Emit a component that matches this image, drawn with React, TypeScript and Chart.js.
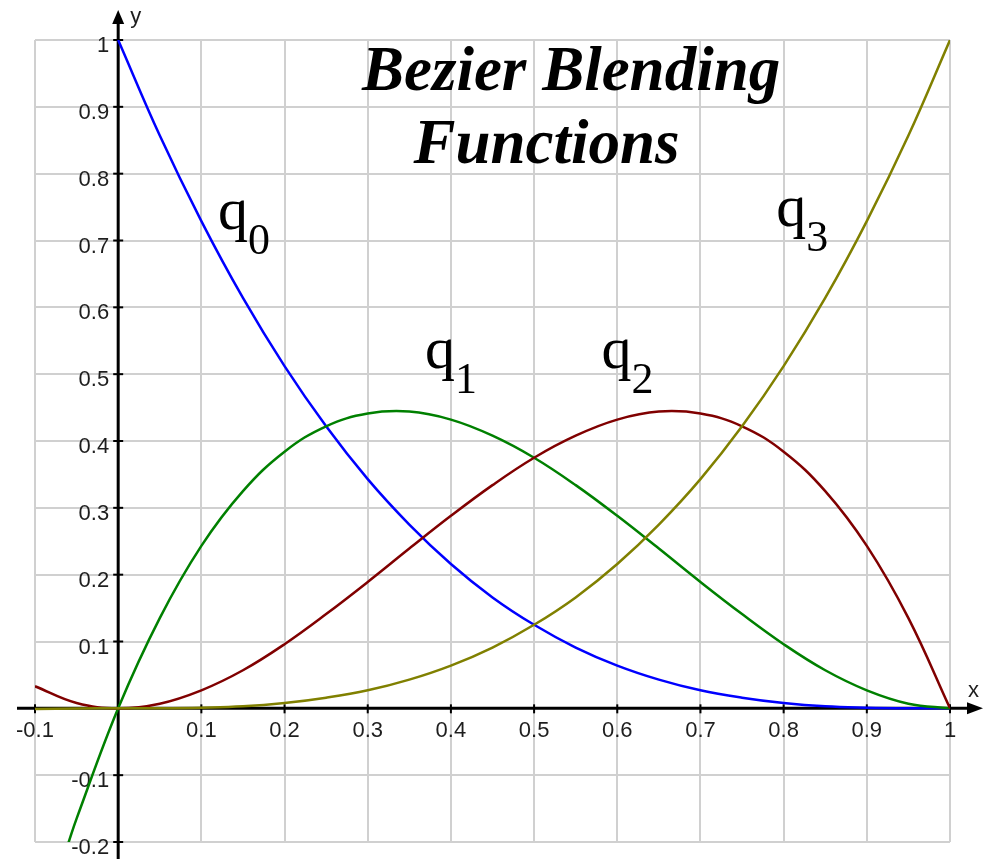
import React, { useEffect, useRef } from "react";
import { Chart, registerables } from "chart.js";

Chart.register(...registerables);

// Parameter values (x) shared by the four blending-function series
const tValues = [-0.1, -0.06, -0.05, 0, 0.05, 0.1, 0.15, 0.2, 0.25, 0.3, 0.35, 0.4, 0.45, 0.5, 0.55, 0.6, 0.65, 0.7, 0.75, 0.8, 0.85, 0.9, 0.95, 1];

// q0 (blue)
const q0Values = [null, null, null, 1, 0.857, 0.729, 0.614, 0.512, 0.422, 0.343, 0.275, 0.216, 0.166, 0.125, 0.091, 0.064, 0.043, 0.027, 0.016, 0.008, 0.003, 0.001, 0.0001, 0];
// q1 (green)
const q1Values = [null, -0.202, -0.165, 0, 0.135, 0.243, 0.325, 0.384, 0.422, 0.441, 0.444, 0.432, 0.408, 0.375, 0.334, 0.288, 0.239, 0.189, 0.141, 0.096, 0.057, 0.027, 0.007, 0];
// q2 (dark red)
const q2Values = [0.033, null, 0.0079, 0, 0.007, 0.027, 0.057, 0.096, 0.141, 0.189, 0.239, 0.288, 0.334, 0.375, 0.408, 0.432, 0.444, 0.441, 0.422, 0.384, 0.325, 0.243, 0.135, 0];
// q3 (olive)
const q3Values = [-0.001, null, -0.0001, 0, 0.0001, 0.001, 0.003, 0.008, 0.016, 0.027, 0.043, 0.064, 0.091, 0.125, 0.166, 0.216, 0.275, 0.343, 0.422, 0.512, 0.614, 0.729, 0.857, 1];

const seriesNames = ["q0", "q1", "q2", "q3"];
const seriesColors = ["#0000ff", "#008000", "#800000", "#808000"];

// Axis ranges / tick step
const xRange = [-0.1, 1];
const yRange = [-0.2, 1];
const tickStep = 0.1;

// Curve labels (letter, subscript, anchor in data coordinates)
const labelMain = ["q", "q", "q", "q"];
const labelSub = ["0", "1", "2", "3"];
const labelX = [0.12, 0.369, 0.581, 0.791];
const labelY = [0.717, 0.509, 0.509, 0.722];

// Title lines (anchor in data coordinates)
const titleLines = ["Bezier Blending", "Functions"];
const titleX = [0.293, 0.355];
const titleY = [0.925, 0.816];

const fmt = (v: number) => String(Math.round(v * 10) / 10);

const overlayPlugin = {
  id: "overlay",
  beforeDatasetsDraw(chart: any) {
    const { ctx, chartArea } = chart;
    const xs = chart.scales.x;
    const ys = chart.scales.y;
    const x0 = xs.getPixelForValue(0);
    const y0 = ys.getPixelForValue(0);
    ctx.save();
    ctx.strokeStyle = "#000";
    ctx.fillStyle = "#000";
    // x axis
    const xLeft = chartArea.left - 18;
    const xTip = chartArea.right + 33;
    ctx.lineWidth = 3;
    ctx.beginPath();
    ctx.moveTo(xLeft, y0);
    ctx.lineTo(xTip - 10, y0);
    ctx.stroke();
    ctx.beginPath();
    ctx.moveTo(xTip, y0);
    ctx.lineTo(xTip - 16, y0 - 6);
    ctx.lineTo(xTip - 16, y0 + 6);
    ctx.closePath();
    ctx.fill();
    // y axis
    const yTip = chartArea.top - 30;
    ctx.beginPath();
    ctx.moveTo(x0, chart.height);
    ctx.lineTo(x0, yTip + 10);
    ctx.stroke();
    ctx.beginPath();
    ctx.moveTo(x0, yTip);
    ctx.lineTo(x0 - 6, yTip + 14);
    ctx.lineTo(x0 + 6, yTip + 14);
    ctx.closePath();
    ctx.fill();

    // tick marks and labels
    ctx.lineWidth = 2;
    ctx.font = '22px "Liberation Sans", Arial, sans-serif';
    ctx.fillStyle = "#1e1e1e";
    xs.ticks.forEach((t: any) => {
      if (Math.abs(t.value) < 1e-9) return;
      const px = xs.getPixelForValue(t.value);
      ctx.beginPath();
      ctx.moveTo(px, y0 - 4);
      ctx.lineTo(px, y0 + 5);
      ctx.stroke();
      ctx.textAlign = "center";
      ctx.textBaseline = "alphabetic";
      ctx.fillText(fmt(t.value), px, y0 + 29);
    });
    ys.ticks.forEach((t: any) => {
      if (Math.abs(t.value) < 1e-9) return;
      const py = ys.getPixelForValue(t.value);
      ctx.beginPath();
      ctx.moveTo(x0 - 5, py);
      ctx.lineTo(x0 + 5, py);
      ctx.stroke();
      ctx.textAlign = "right";
      ctx.textBaseline = "alphabetic";
      ctx.fillText(fmt(t.value), x0 - 9, py + 12);
    });

    // axis names
    ctx.font = '22px "Liberation Sans", Arial, sans-serif';
    ctx.textAlign = "left";
    ctx.fillText("y", x0 + 12, chartArea.top - 17);
    ctx.fillText("x", chartArea.right + 18, y0 - 11);
    ctx.restore();
  },
  afterDatasetsDraw(chart: any) {
    const { ctx } = chart;
    const xs = chart.scales.x;
    const ys = chart.scales.y;
    ctx.save();
    ctx.fillStyle = "#000";
    ctx.textAlign = "left";
    ctx.textBaseline = "alphabetic";
    ctx.font = 'italic bold 63px "Liberation Serif", "Times New Roman", serif';
    titleLines.forEach((line, i) => {
      ctx.fillText(line, xs.getPixelForValue(titleX[i]), ys.getPixelForValue(titleY[i]));
    });
    labelMain.forEach((m, i) => {
      const px = xs.getPixelForValue(labelX[i]);
      const py = ys.getPixelForValue(labelY[i]);
      ctx.font = '60px "Liberation Serif", "Times New Roman", serif';
      ctx.fillText(m, px, py);
      const w = ctx.measureText(m).width;
      ctx.font = '44px "Liberation Serif", "Times New Roman", serif';
      ctx.fillText(labelSub[i], px + w, py + 25);
    });
    ctx.restore();
  },
};

export default function App() {
  const canvasRef = useRef<HTMLCanvasElement | null>(null);

  useEffect(() => {
    const canvas = canvasRef.current;
    if (!canvas) return;
    const seriesValues = [q0Values, q1Values, q2Values, q3Values];
    const drawOrder = [3, 2, 1, 0];
    const datasets = seriesValues.map((vals, i) => ({
      label: seriesNames[i],
      data: tValues
        .map((x, j) => ({ x, y: vals[j] }))
        .filter((p) => p.y !== null),
      borderColor: seriesColors[i],
      backgroundColor: seriesColors[i],
      borderWidth: 2.5,
      pointRadius: 0,
      fill: false,
      showLine: true,
      tension: 0.4,
      order: drawOrder[i],
    }));

    const chart = new Chart(canvas, {
      type: "scatter",
      data: { datasets },
      plugins: [overlayPlugin],
      options: {
        animation: false,
        responsive: false,
        devicePixelRatio: 1,
        layout: { padding: { left: 35, top: 40, right: 40, bottom: 17 } },
        plugins: {
          legend: { display: false },
          tooltip: { enabled: false },
          title: { display: false },
        },
        events: [],
        scales: {
          x: {
            type: "linear",
            min: xRange[0],
            max: xRange[1],
            ticks: { display: false, stepSize: tickStep },
            grid: { color: "#d0d0d0", lineWidth: 2, drawTicks: false },
            border: { display: false },
            afterFit: (s: any) => {
              s.height = 0;
            },
          },
          y: {
            type: "linear",
            min: yRange[0],
            max: yRange[1],
            ticks: { display: false, stepSize: tickStep },
            grid: { color: "#d0d0d0", lineWidth: 2, drawTicks: false },
            border: { display: false },
            afterFit: (s: any) => {
              s.width = 0;
            },
          },
        },
      },
    });
    return () => chart.destroy();
  }, []);

  return (
    <div style={{ position: "absolute", left: 0, top: 0, width: 990, height: 859, background: "#fff" }}>
      <canvas ref={canvasRef} width={990} height={859} style={{ display: "block" }} />
    </div>
  );
}
